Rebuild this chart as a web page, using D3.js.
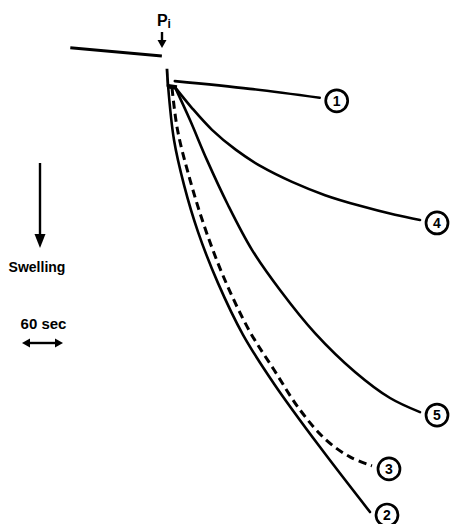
<!DOCTYPE html>
<html>
<head>
<meta charset="utf-8">
<script src="https://cdn.jsdelivr.net/npm/d3@7/dist/d3.min.js"></script>
<style>
  html, body { margin: 0; padding: 0; background: #fff; }
  svg { display: block; }
  text { font-family: "Liberation Sans", Arial, Helvetica, sans-serif; fill: #000; }
</style>
</head>
<body>
<div id="chart"></div>
<script>
// ---- Data (time in s relative to Pi addition, swelling in arbitrary units) ----
const preT = [-143, -9];
const preV = [-8.7, -6.8];

const startT = [-1.5, 0];
const startV = [-3.8, 0.4];

const clusterT = [0, 13];
const clusterV = [0.3, 0.6];

const traceLabels = ["1", "4", "5", "3", "2"];
const traceDashed = [false, false, false, true, false];

const t1 = [10, 120, 222];
const v1 = [-0.9, 0.9, 3.0];

const t4 = [10.2, 35.1, 64.4, 99.5, 137.6, 181.5, 229.8, 281.0, 332.2, 368.8];
const v4 = [0.5, 5.4, 10.5, 15.2, 19.2, 22.7, 25.8, 28.3, 30.4, 31.6];

const t5 = [10.2, 32.2, 57.1, 87.8, 122.9, 163.9, 215.1, 273.7, 324.9, 368.8];
const v5 = [0.5, 8.2, 17.6, 28.1, 38.6, 48.0, 58.1, 67.2, 73.3, 76.6];

const t3 = [5.9, 13.9, 32.2, 54.1, 82.0, 118.5, 155.1, 193.2, 231.2, 266.3, 298.5];
const v3 = [0.7, 10.5, 22.2, 33.5, 45.2, 57.4, 66.7, 76.1, 83.1, 87.1, 89.2];

const t2 = [0, 8.8, 23.4, 43.9, 73.2, 109.8, 156.6, 222.4, 295.6];
const v2 = [0, 12.9, 23.4, 34.4, 46.4, 58.5, 70.3, 84.8, 100];

const scaleBarSec = 60;

// ---- Layout ----
const W = 450, H = 524;
const svg = d3.select("#chart").append("svg").attr("width", W).attr("height", H);

const x = d3.scaleLinear().domain([0, 300]).range([168, 373]);
const y = d3.scaleLinear().domain([0, 100]).range([85, 512]);

const zip = (ts, vs) => ts.map((t, i) => [t, vs[i]]);
const lineCurve = d3.line().x(d => x(d[0])).y(d => y(d[1])).curve(d3.curveCatmullRom.alpha(0.5));
const lineStraight = d3.line().x(d => x(d[0])).y(d => y(d[1]));

// pre-addition baseline
svg.append("path").attr("d", lineStraight(zip(preT, preV)))
  .attr("fill", "none").attr("stroke", "#000").attr("stroke-width", 3);

// short vertical start stroke
svg.append("path").attr("d", lineStraight(zip(startT, startV)))
  .attr("fill", "none").attr("stroke", "#000").attr("stroke-width", 2.8);

// thick convergence blob
svg.append("path").attr("d", lineStraight(zip(clusterT, clusterV)))
  .attr("fill", "none").attr("stroke", "#000").attr("stroke-width", 4.5);

const traces = [zip(t1, v1), zip(t4, v4), zip(t5, v5), zip(t3, v3), zip(t2, v2)];

traces.forEach((pts, i) => {
  const p = svg.append("path").attr("d", lineCurve(pts))
    .attr("fill", "none").attr("stroke", "#000")
    .attr("stroke-linecap", traceDashed[i] ? "butt" : "round");
  if (traceDashed[i]) {
    p.attr("stroke-width", 3).attr("stroke-dasharray", "8,5");
  } else {
    p.attr("stroke-width", 2.6);
  }
  const end = pts[pts.length - 1];
  const cx = x(end[0]) + 17, cy = y(end[1]) + 3;
  svg.append("circle").attr("cx", cx).attr("cy", cy).attr("r", 11)
    .attr("fill", "#fff").attr("stroke", "#000").attr("stroke-width", 2.7);
  svg.append("text").attr("x", cx).attr("y", cy + 5)
    .attr("text-anchor", "middle").attr("font-size", 14).attr("font-weight", "bold")
    .text(traceLabels[i]);
});

// Pi label + arrow
const pX = 162;
svg.append("text").attr("x", 157).attr("y", 26).attr("font-size", 16).attr("font-weight", "bold")
  .text("P");
svg.append("text").attr("x", 167.5).attr("y", 28).attr("font-size", 12).attr("font-weight", "bold")
  .text("i");
svg.append("line").attr("x1", pX).attr("x2", pX).attr("y1", 32).attr("y2", 42)
  .attr("stroke", "#000").attr("stroke-width", 2.4);
svg.append("path").attr("d", `M${pX - 4.5},40 L${pX + 4.5},40 L${pX},48 Z`).attr("fill", "#000");

// Swelling arrow
const sX = 40;
svg.append("line").attr("x1", sX).attr("x2", sX).attr("y1", 163).attr("y2", 238)
  .attr("stroke", "#000").attr("stroke-width", 2.4);
svg.append("path").attr("d", `M${sX - 5.5},234 L${sX + 5.5},234 L${sX},248 Z`).attr("fill", "#000");
svg.append("text").attr("x", 37).attr("y", 272).attr("font-size", 14).attr("font-weight", "bold")
  .attr("text-anchor", "middle").text("Swelling");

// 60 sec scale bar
const barW = x(scaleBarSec) - x(0);
const bx0 = 22, by = 343;
svg.append("text").attr("x", bx0 + barW / 2 + 1).attr("y", 329).attr("font-size", 15).attr("font-weight", "bold")
  .attr("text-anchor", "middle").text("60 sec");
svg.append("line").attr("x1", bx0 + 6).attr("x2", bx0 + barW - 6).attr("y1", by).attr("y2", by)
  .attr("stroke", "#000").attr("stroke-width", 2.4);
svg.append("path").attr("d", `M${bx0},${by} L${bx0 + 8},${by - 4.5} L${bx0 + 8},${by + 4.5} Z`).attr("fill", "#000");
svg.append("path").attr("d", `M${bx0 + barW},${by} L${bx0 + barW - 8},${by - 4.5} L${bx0 + barW - 8},${by + 4.5} Z`).attr("fill", "#000");
</script>
</body>
</html>
